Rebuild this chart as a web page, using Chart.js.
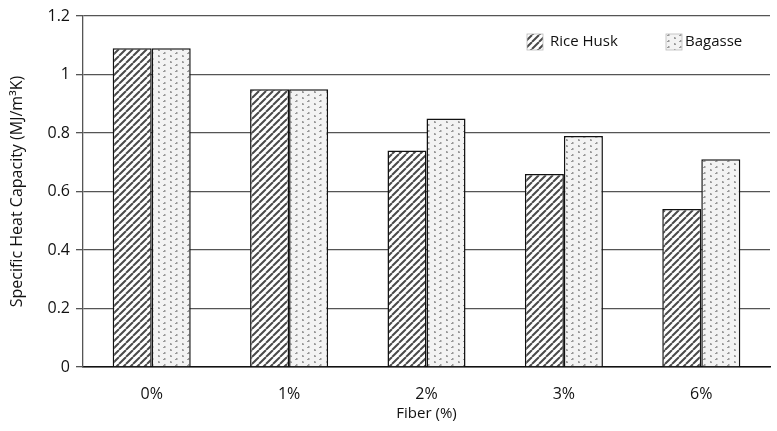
<!DOCTYPE html>
<html>
<head>
    <title>Specific Heat Capacity</title>
    <script src="https://cdn.jsdelivr.net/npm/chart.js"></script>
    <style>
        html, body { margin: 0; padding: 0; background: #fff; }
        #wrap { width: 777px; height: 431px; }
    </style>
</head>
<body>
    <div id="wrap"><canvas id="barChart"></canvas></div>
    <script>
        var fibers = ['0%', '1%', '2%', '3%', '6%'];
        var riceHusk = [1.09, 0.95, 0.74, 0.66, 0.54];
        var bagasse = [1.09, 0.95, 0.85, 0.79, 0.71];
        var seriesNames = ['Rice Husk', 'Bagasse'];

        var FONT = '"Open Sans", Lato, sans-serif';

        function stripePattern() {
            var c = document.createElement('canvas');
            c.width = 7; c.height = 7;
            var g = c.getContext('2d');
            g.fillStyle = '#fff';
            g.fillRect(0, 0, 7, 7);
            g.strokeStyle = '#4a4a4a';
            g.lineWidth = 2.0;
            g.beginPath();
            for (var k = -7; k <= 14; k += 7) {
                g.moveTo(k, 7);
                g.lineTo(k + 7, 0);
            }
            g.stroke();
            return g.createPattern(c, 'repeat');
        }

        function dotPattern() {
            var c = document.createElement('canvas');
            c.width = 12; c.height = 12;
            var g = c.getContext('2d');
            g.fillStyle = '#f3f3f3';
            g.fillRect(0, 0, 12, 12);
            g.fillStyle = '#9a9a9a';
            g.fillRect(2, 1, 1.5, 2);
            g.fillRect(3, 2, 1, 1);
            g.fillRect(8, 4, 1.5, 2);
            g.fillRect(7, 5, 1, 1);
            g.fillRect(2, 7, 1.5, 2);
            g.fillRect(3, 8, 1, 1);
            g.fillRect(8, 10, 1.5, 2);
            g.fillRect(7, 11, 1, 1);
            return g.createPattern(c, 'repeat');
        }

        var fills = [stripePattern(), dotPattern()];

        var boxLegend = {
            id: 'boxLegend',
            afterDraw: function (chart) {
                var ctx = chart.ctx;
                var spots = [527, 666];
                ctx.save();
                ctx.font = '15px ' + FONT;
                ctx.textBaseline = 'middle';
                chart.data.datasets.forEach(function (ds, i) {
                    var x = spots[i];
                    ctx.fillStyle = ds.backgroundColor;
                    ctx.fillRect(x, 34, 16, 16);
                    ctx.strokeStyle = '#bbb';
                    ctx.lineWidth = 0.8;
                    ctx.strokeRect(x, 34, 16, 16);
                    ctx.fillStyle = '#111';
                    ctx.fillText(ds.label, x + (i === 0 ? 23 : 19), 42);
                });
                ctx.restore();
            }
        };

        var ctx = document.getElementById('barChart').getContext('2d');
        var barChart = new Chart(ctx, {
            type: 'bar',
            data: {
                labels: fibers,
                datasets: [{
                    label: seriesNames[0],
                    data: riceHusk,
                    backgroundColor: fills[0],
                    borderColor: '#111',
                    borderWidth: 1.5,
                    borderSkipped: 'bottom'
                }, {
                    label: seriesNames[1],
                    data: bagasse,
                    backgroundColor: fills[1],
                    borderColor: '#111',
                    borderWidth: 1.5,
                    borderSkipped: 'bottom'
                }]
            },
            options: {
                responsive: true,
                maintainAspectRatio: false,
                animation: false,
                layout: { padding: { top: 16, right: 7, left: 0, bottom: 8 } },
                categoryPercentage: 0.568,
                barPercentage: 1.0,
                plugins: {
                    legend: { display: false },
                    tooltip: { enabled: false }
                },
                scales: {
                    x: {
                        grid: { display: false },
                        border: { color: '#111', width: 1.5 },
                        ticks: {
                            color: '#111',
                            padding: 10,
                            font: { family: FONT, size: 16 }
                        },
                        title: {
                            display: true,
                            text: 'Fiber (%)',
                            color: '#111',
                            padding: { top: 0, bottom: 0 },
                            font: { family: FONT, size: 15 }
                        },
                        afterFit: function (scale) { scale.height = 56; }
                    },
                    y: {
                        min: 0,
                        max: 1.2,
                        ticks: {
                            stepSize: 0.2,
                            color: '#111',
                            padding: 6,
                            font: { family: FONT, size: 16 },
                            callback: function (v) { return Math.round(v * 10) / 10; }
                        },
                        grid: { color: '#555', lineWidth: 1.3, tickLength: 7 },
                        border: { color: '#555', width: 1.3 },
                        title: {
                            display: true,
                            text: 'Specific Heat Capacity (MJ/m³K)',
                            color: '#111',
                            padding: { top: 8, bottom: 4 },
                            font: { family: FONT, size: 16 }
                        },
                        afterFit: function (scale) { scale.width = 83; }
                    }
                }
            },
            plugins: [boxLegend]
        });
    </script>
</body>
</html>
